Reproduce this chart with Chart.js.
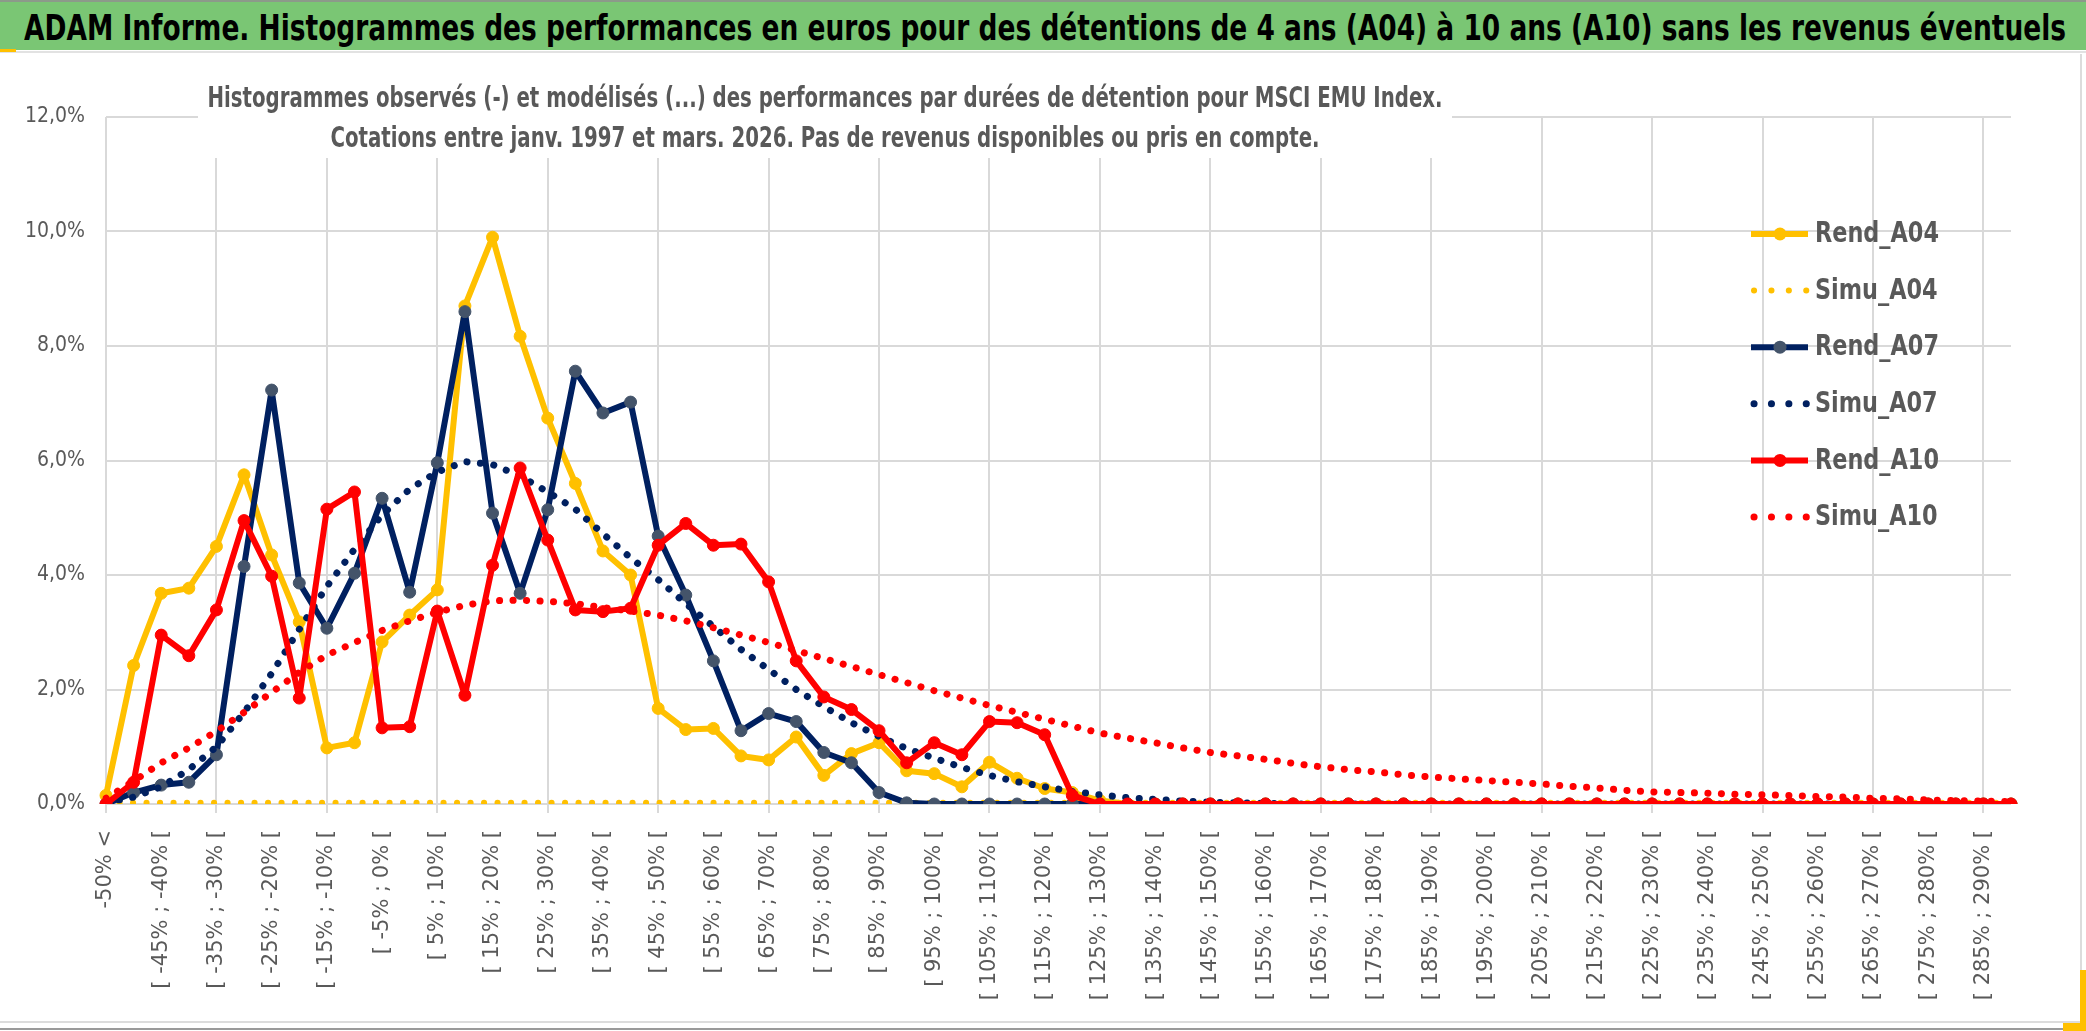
<!DOCTYPE html>
<html lang="fr">
<head>
<meta charset="utf-8">
<title>ADAM Informe - Histogrammes</title>
<script src="https://cdn.jsdelivr.net/npm/chart.js@4.4.1/dist/chart.umd.min.js"></script>
<style>
  body { margin: 0; background: #fff; }
  #wrap { position: relative; width: 2086px; height: 1031px; overflow: hidden; background: #fff; }
  #chart { position: absolute; left: 0; top: 0; }
  #titlebar { position: absolute; left: 0; top: 0; width: 2086px; height: 48px; background: #7ac674; border-top: 2px solid #8c9a8a; }
  #title { position: absolute; left: 24px; top: 7px; white-space: nowrap; transform-origin: 0 0;
           font: bold 35px "Liberation Sans Narrow", "DejaVu Sans Condensed", sans-serif; color: #000; line-height: 38px; }
  #sep { position: absolute; left: 0; top: 51px; width: 2086px; height: 2px; background: #e2e2e2; }
  .mark { position: absolute; background: #ffc000; }
  .frame { position: absolute; }
</style>
</head>
<body>
<div id="wrap">
  <canvas id="chart" width="2086" height="1031"></canvas>
  <div id="titlebar"><span id="title">ADAM Informe. Histogrammes des performances en euros pour des détentions de 4 ans (A04) à 10 ans (A10) sans les revenus éventuels</span></div>
  <div id="sep"></div>
  <div class="mark" style="left:0;top:49px;width:16px;height:3px"></div>
  <div class="frame" style="left:0;top:1021px;width:2082px;height:2px;background:#dcdcdc"></div>
  <div class="frame" style="left:0;top:1028px;width:2086px;height:2px;background:#9a9a9a"></div>
  <div class="frame" style="left:2080px;top:54px;width:2px;height:968px;background:#dcdcdc"></div>
  <div class="mark" style="left:2080px;top:970px;width:6px;height:61px"></div>
  <div class="mark" style="left:2063px;top:1023px;width:23px;height:8px"></div>
</div>
<script>
// categories (classes de performance)
const categories = [
  "-50% <", "[ -50% ; -45% [", "[ -45% ; -40% [", "[ -40% ; -35% [", "[ -35% ; -30% [",
  "[ -30% ; -25% [", "[ -25% ; -20% [", "[ -20% ; -15% [", "[ -15% ; -10% [", "[ -10% ; -5% [",
  "[ -5% ; 0% [", "[ 0% ; 5% [", "[ 5% ; 10% [", "[ 10% ; 15% [", "[ 15% ; 20% [",
  "[ 20% ; 25% [", "[ 25% ; 30% [", "[ 30% ; 35% [", "[ 35% ; 40% [", "[ 40% ; 45% [",
  "[ 45% ; 50% [", "[ 50% ; 55% [", "[ 55% ; 60% [", "[ 60% ; 65% [", "[ 65% ; 70% [",
  "[ 70% ; 75% [", "[ 75% ; 80% [", "[ 80% ; 85% [", "[ 85% ; 90% [", "[ 90% ; 95% [",
  "[ 95% ; 100% [", "[ 100% ; 105% [", "[ 105% ; 110% [", "[ 110% ; 115% [", "[ 115% ; 120% [",
  "[ 120% ; 125% [", "[ 125% ; 130% [", "[ 130% ; 135% [", "[ 135% ; 140% [", "[ 140% ; 145% [",
  "[ 145% ; 150% [", "[ 150% ; 155% [", "[ 155% ; 160% [", "[ 160% ; 165% [", "[ 165% ; 170% [",
  "[ 170% ; 175% [", "[ 175% ; 180% [", "[ 180% ; 185% [", "[ 185% ; 190% [", "[ 190% ; 195% [",
  "[ 195% ; 200% [", "[ 200% ; 205% [", "[ 205% ; 210% [", "[ 210% ; 215% [", "[ 215% ; 220% [",
  "[ 220% ; 225% [", "[ 225% ; 230% [", "[ 230% ; 235% [", "[ 235% ; 240% [", "[ 240% ; 245% [",
  "[ 245% ; 250% [", "[ 250% ; 255% [", "[ 255% ; 260% [", "[ 260% ; 265% [", "[ 265% ; 270% [",
  "[ 270% ; 275% [", "[ 275% ; 280% [", "[ 280% ; 285% [", "[ 285% ; 290% [", "[ 290% ; 295% ["
];

// frequencies in %
const rendA04 = [
  0.15, 2.42, 3.68, 3.77, 4.50, 5.75, 4.35, 3.18, 0.98, 1.07,
  2.83, 3.30, 3.74, 8.70, 9.90, 8.17, 6.74, 5.60, 4.42, 4.00,
  1.67, 1.30, 1.32, 0.84, 0.77, 1.17, 0.50, 0.88, 1.07, 0.58,
  0.53, 0.30, 0.73, 0.45, 0.27, 0.20, 0.06, 0, 0, 0,
  0, 0, 0, 0, 0, 0, 0, 0, 0, 0,
  0, 0, 0, 0, 0, 0, 0, 0, 0, 0,
  0, 0, 0, 0, 0, 0, 0, 0, 0, 0
];
const simuA04 = [
  0.02, 0.02, 0.02, 0.02, 0.02, 0.02, 0.02, 0.02, 0.02, 0.02,
  0.02, 0.02, 0.02, 0.02, 0.02, 0.02, 0.02, 0.02, 0.02, 0.02,
  0.02, 0.02, 0.02, 0.02, 0.02, 0.02, 0.02, 0.02, 0.02, 0.02,
  0.02, 0.02, 0.02, 0.02, 0.02, 0.02, 0.02, 0.02, 0.02, 0.02,
  0.02, 0.02, 0.02, 0.02, 0.02, 0.02, 0.02, 0.02, 0.02, 0.02,
  0.02, 0.02, 0.02, 0.02, 0.02, 0.02, 0.02, 0.02, 0.02, 0.02,
  0.02, 0.02, 0.02, 0.02, 0.02, 0.02, 0.02, 0.02, 0.02, 0.02
];
const rendA07 = [
  0, 0.20, 0.33, 0.38, 0.86, 4.15, 7.23, 3.86, 3.07, 4.03,
  5.34, 3.70, 5.96, 8.60, 5.08, 3.68, 5.14, 7.56, 6.83, 7.02,
  4.68, 3.65, 2.50, 1.28, 1.58, 1.44, 0.90, 0.72, 0.20, 0.02,
  0, 0, 0, 0, 0, 0, 0, 0, 0, 0,
  0, 0, 0, 0, 0, 0, 0, 0, 0, 0,
  0, 0, 0, 0, 0, 0, 0, 0, 0, 0,
  0, 0, 0, 0, 0, 0, 0, 0, 0, 0
];
const simuA07 = [
  0.03, 0.12, 0.30, 0.60, 1.00, 1.60, 2.28, 3.05, 3.80, 4.45,
  5.05, 5.50, 5.80, 5.98, 5.93, 5.73, 5.45, 5.15, 4.72, 4.30,
  3.92, 3.50, 3.10, 2.70, 2.35, 2.00, 1.70, 1.42, 1.18, 0.97,
  0.80, 0.64, 0.50, 0.39, 0.30, 0.22, 0.16, 0.11, 0.08, 0.05,
  0.03, 0.02, 0.01, 0, 0, 0, 0, 0, 0, 0,
  0, 0, 0, 0, 0, 0, 0, 0, 0, 0,
  0, 0, 0, 0, 0, 0, 0, 0, 0, 0
];
const rendA10 = [
  0, 0.38, 2.95, 2.59, 3.39, 4.95, 3.98, 1.85, 5.15, 5.45,
  1.33, 1.35, 3.37, 1.90, 4.17, 5.87, 4.61, 3.39, 3.36, 3.42,
  4.52, 4.90, 4.52, 4.54, 3.88, 2.50, 1.87, 1.65, 1.28, 0.72,
  1.07, 0.86, 1.44, 1.42, 1.21, 0.15, 0, 0, 0, 0,
  0, 0, 0, 0, 0, 0, 0, 0, 0, 0,
  0, 0, 0, 0, 0, 0, 0, 0, 0, 0,
  0, 0, 0, 0, 0, 0, 0, 0, 0, 0
];
const simuA10 = [
  0.10, 0.40, 0.72, 0.98, 1.27, 1.60, 1.95, 2.30, 2.60, 2.82,
  3.03, 3.20, 3.35, 3.47, 3.55, 3.56, 3.54, 3.50, 3.43, 3.37,
  3.30, 3.20, 3.08, 2.95, 2.82, 2.68, 2.54, 2.40, 2.26, 2.12,
  1.98, 1.85, 1.72, 1.60, 1.48, 1.36, 1.24, 1.15, 1.07, 0.98,
  0.90, 0.84, 0.78, 0.71, 0.65, 0.60, 0.56, 0.51, 0.47, 0.44,
  0.41, 0.38, 0.35, 0.31, 0.28, 0.24, 0.21, 0.20, 0.19, 0.17,
  0.16, 0.15, 0.13, 0.12, 0.10, 0.09, 0.07, 0.06, 0.05, 0.04
];

const subtitle1 = "Histogrammes observés (-) et modélisés (...) des performances par durées de détention pour MSCI EMU Index.";
const subtitle2 = "Cotations entre janv. 1997 et mars. 2026. Pas de revenus disponibles ou pris en compte.";

const YELLOW = '#ffc000', NAVY = '#002060', NAVY_MK = '#44546a', RED = '#ff0000';
const GRID = '#d9d9d9', TXT = '#595959';
const boldFont = '"Liberation Sans Narrow", "DejaVu Sans Condensed", sans-serif';

function rend(label, data, color, marker) {
  return {
    label: label, data: data, borderColor: color, backgroundColor: marker,
    borderWidth: 6, borderJoinStyle: 'round', tension: 0,
    pointRadius: 6, pointBackgroundColor: marker, pointBorderColor: marker, pointBorderWidth: 1,
    kind: 'rend'
  };
}
function simu(label, data, color, width) {
  return {
    label: label, data: data, borderColor: color, backgroundColor: color,
    borderWidth: width, borderDash: [0.1, 13.4], borderCapStyle: 'round', tension: 0,
    pointRadius: 0, kind: 'simu'
  };
}

const datasets = [
  rend('Rend_A04', rendA04, YELLOW, YELLOW),
  simu('Simu_A04', simuA04, YELLOW, 6),
  rend('Rend_A07', rendA07, NAVY, NAVY_MK),
  simu('Simu_A07', simuA07, NAVY, 7),
  rend('Rend_A10', rendA10, RED, RED),
  simu('Simu_A10', simuA10, RED, 7)
];
// later series on top, like in the workbook
datasets.forEach((d, i) => { d.order = datasets.length - 1 - i; });

function fitScale(ctx, text, width) {
  return width / ctx.measureText(text).width;
}
function drawScaled(ctx, text, x, y, sx) {
  ctx.save();
  ctx.translate(x, y);
  ctx.scale(sx, 1);
  ctx.fillText(text, 0, 0);
  ctx.restore();
}

// subtitle box over the plot area
const subtitlePlugin = {
  id: 'subtitleBox',
  beforeDatasetsDraw(chart) {
    const ctx = chart.ctx;
    ctx.save();
    ctx.fillStyle = '#fff';
    ctx.fillRect(198, 60, 1254, 98);
    ctx.fillStyle = TXT;
    ctx.font = 'bold 28px ' + boldFont;
    ctx.textAlign = 'center';
    ctx.textBaseline = 'alphabetic';
    const sx = fitScale(ctx, subtitle1, 1235);
    drawScaled(ctx, subtitle1, 825, 107, sx);
    drawScaled(ctx, subtitle2, 825, 147, sx);
    ctx.restore();
  }
};

// legend at the right, over the plot
const legendPlugin = {
  id: 'sideLegend',
  afterDatasetsDraw(chart) {
    const ctx = chart.ctx;
    ctx.save();
    ctx.font = 'bold 28px ' + boldFont;
    const sx = fitScale(ctx, 'Rend_A04', 124);
    chart.data.datasets.forEach((d, i) => {
      const y = 234 + i * 56.6;
      ctx.save();
      ctx.strokeStyle = d.borderColor;
      ctx.lineWidth = d.borderWidth;
      ctx.lineCap = d.kind === 'simu' ? 'round' : 'butt';
      if (d.kind === 'simu') ctx.setLineDash([0.1, 17.3]);
      ctx.beginPath();
      ctx.moveTo(d.kind === 'simu' ? 1754 : 1751, y);
      ctx.lineTo(1808, y);
      ctx.stroke();
      ctx.restore();
      if (d.kind === 'rend') {
        ctx.fillStyle = d.pointBackgroundColor;
        ctx.beginPath();
        ctx.arc(1780, y, 6.5, 0, Math.PI * 2);
        ctx.fill();
      }
      ctx.fillStyle = TXT;
      ctx.textAlign = 'left';
      ctx.textBaseline = 'middle';
      drawScaled(ctx, d.label, 1815, y + 1, sx);
    });
    ctx.restore();
  }
};

new Chart(document.getElementById('chart').getContext('2d'), {
  type: 'line',
  data: { labels: categories, datasets: datasets },
  options: {
    responsive: false,
    animation: false,
    devicePixelRatio: 1,
    layout: { padding: { left: 0, right: 75, top: 117, bottom: 0 } },
    plugins: { legend: { display: false }, tooltip: { enabled: false } },
    scales: {
      x: {
        offset: false,
        grid: {
          color: c => (c.index % 4 === 0 ? GRID : 'rgba(0,0,0,0)'),
          lineWidth: 2, drawTicks: true, tickLength: 9
        },
        border: { display: false },
        ticks: {
          autoSkip: false, maxRotation: 90, minRotation: 90, padding: 17,
          color: TXT, font: { family: '"DejaVu Sans", sans-serif', size: 21 },
          callback: (v, i) => (i % 2 === 0 ? categories[i] : '')
        },
        afterFit: s => { s.height = 227; }
      },
      y: {
        min: 0, max: 12,
        grid: { color: GRID, lineWidth: 2, drawTicks: false },
        border: { display: false },
        ticks: {
          stepSize: 2, padding: 21, color: TXT,
          font: { family: '"Liberation Sans Narrow", "DejaVu Sans Condensed", sans-serif', size: 21 },
          callback: v => v.toFixed(1).replace('.', ',') + '%'
        },
        afterFit: s => { s.width = 106; }
      }
    }
  },
  plugins: [subtitlePlugin, legendPlugin]
});

// stretch the title over the bar width
const t = document.getElementById('title');
const w = t.getBoundingClientRect().width;
t.style.transform = 'scaleX(' + (2042 / w) + ')';
</script>
</body>
</html>
